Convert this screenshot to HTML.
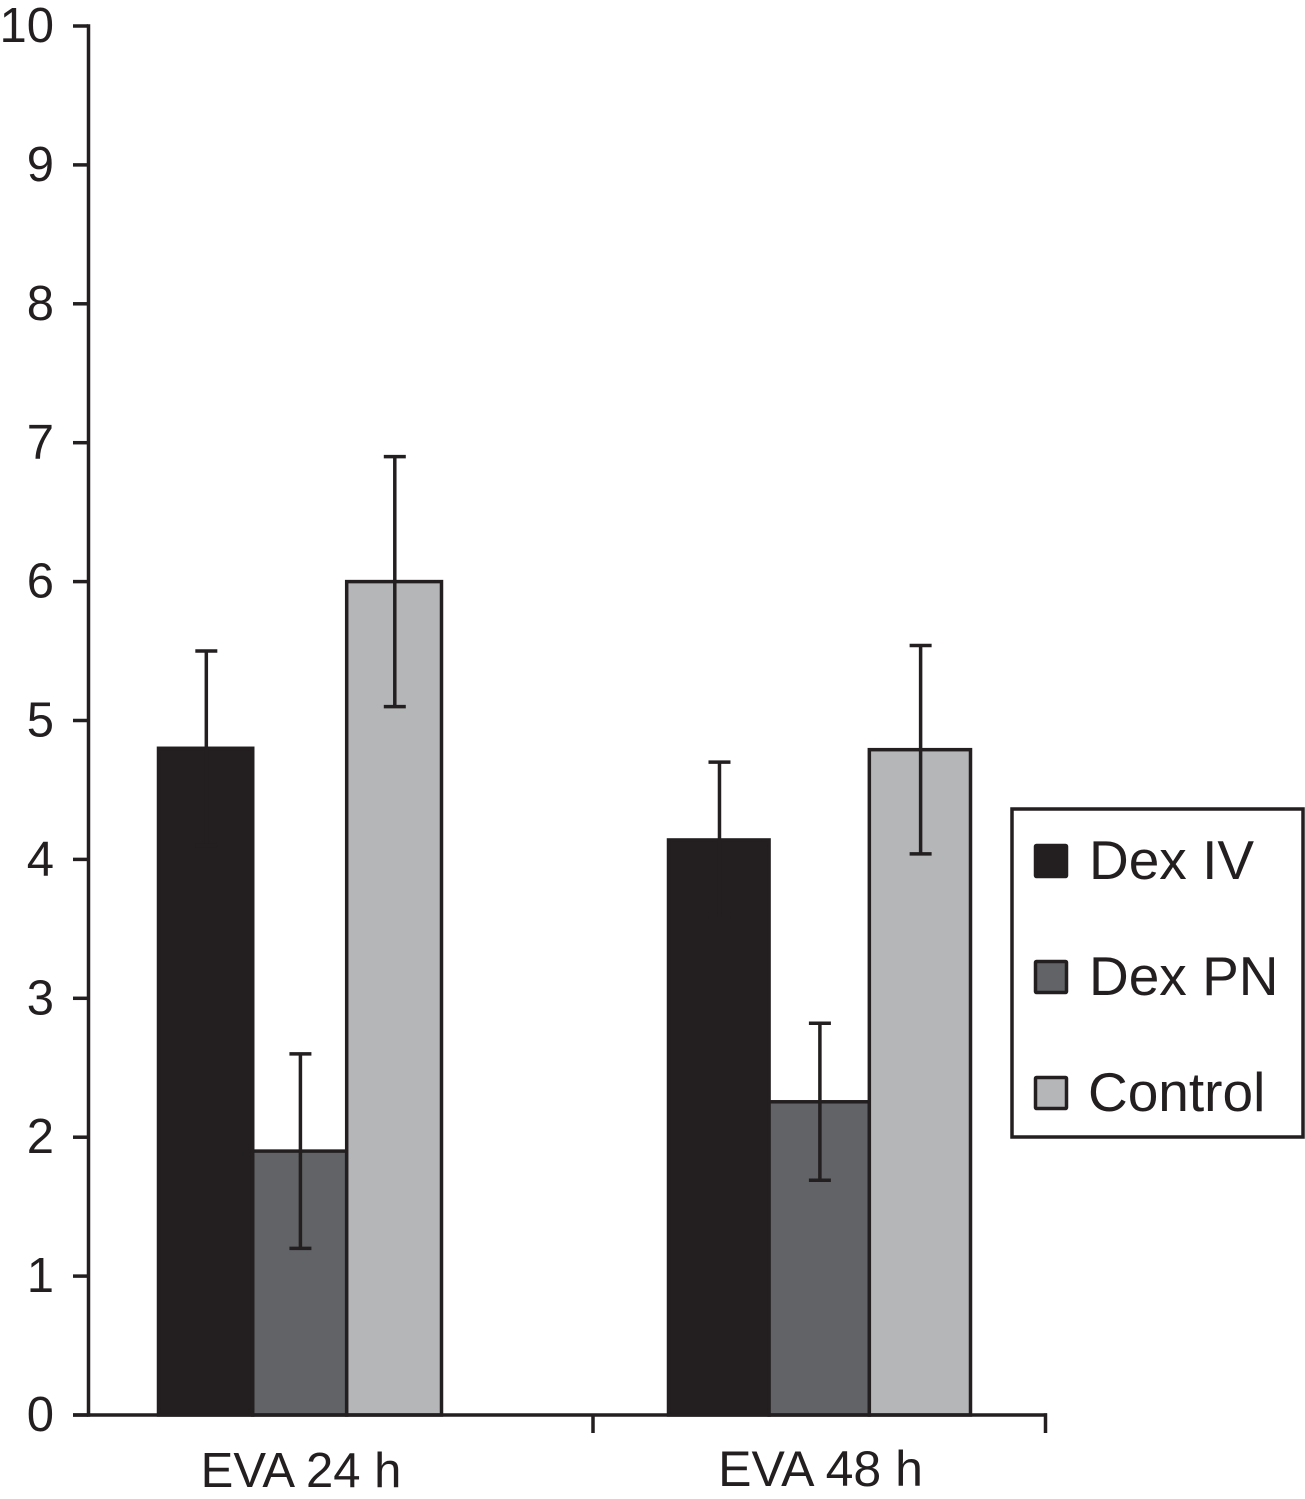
<!DOCTYPE html>
<html lang="en">
<head>
<meta charset="utf-8">
<title>EVA scores by treatment group</title>
<style>
  html, body { margin: 0; padding: 0; background: #fff; }
  body { width: 1305px; height: 1499px; overflow: hidden; }
  svg { display: block; font-family: "Liberation Sans", Arial, sans-serif; fill: #231f20; }
</style>
</head>
<body>
<svg id="chart" xmlns="http://www.w3.org/2000/svg" width="1305" height="1499" viewBox="0 0 1305 1499">
  <rect x="0" y="0" width="1305" height="1499" fill="#ffffff"></rect>
  <g id="bars"></g>
  <g id="errors"></g>
  <g id="axes"></g>
  <g id="legend">
    <rect x="1012" y="809" width="291" height="328" fill="#ffffff" stroke="#231f20" stroke-width="3.5"></rect>
    <g>
      <rect x="1035.5" y="845.5" width="31" height="31" rx="1" fill="#231f20" stroke="#231f20" stroke-width="3.5"></rect>
      <text x="1089" y="879" font-size="55">Dex IV</text>
    </g>
    <g>
      <rect x="1035.5" y="961.5" width="31" height="31" rx="1" fill="#616366" stroke="#231f20" stroke-width="3.5"></rect>
      <text x="1089" y="995" font-size="55">Dex PN</text>
    </g>
    <g>
      <rect x="1035.5" y="1077.5" width="31" height="31" rx="1" fill="#b5b6b8" stroke="#231f20" stroke-width="3.5"></rect>
      <text x="1088" y="1111" font-size="55">Control</text>
    </g>
  </g>
</svg>
<script>
const categories = ['EVA 24 h', 'EVA 48 h'];
const seriesNames = ['Dex IV', 'Dex PN', 'Control'];
const dexIvValues = [4.8, 4.14];
const dexPnValues = [1.9, 2.255];
const controlValues = [6.0, 4.79];
const dexIvErrors = [0.7, 0.56];
const dexPnErrors = [0.7, 0.565];
const controlErrors = [0.9, 0.75];
const yTickLabels = ['0', '1', '2', '3', '4', '5', '6', '7', '8', '9', '10'];

const SVG_NS = 'http://www.w3.org/2000/svg';
const INK = '#231f20';
const seriesValues = [dexIvValues, dexPnValues, controlValues];
const seriesErrors = [dexIvErrors, dexPnErrors, controlErrors];

function yScale(v) { return 1415 - v * 138.9; }
function groupLeft(c) { return 158.5 + c * 510; }
function groupWidth(c) { return 283 + c * 19; }
function barEdge(c, s) {
  const fractions = [0, 0.333, 0.665, 1];
  return groupLeft(c) + groupWidth(c) * fractions[s];
}
function seriesFill(s) {
  if (s === 0) return INK;
  if (s === 1) return '#616366';
  return '#b5b6b8';
}
function slug(t) { return t.toLowerCase().replace(/\s+/g, '-'); }
function drawLine(parent, x1, y1, x2, y2, width) {
  const el = document.createElementNS(SVG_NS, 'line');
  el.setAttribute('x1', x1);
  el.setAttribute('y1', y1);
  el.setAttribute('x2', x2);
  el.setAttribute('y2', y2);
  el.setAttribute('stroke', INK);
  el.setAttribute('stroke-width', width);
  parent.appendChild(el);
  return el;
}
function drawText(parent, x, y, size, anchor, content) {
  const el = document.createElementNS(SVG_NS, 'text');
  el.setAttribute('x', x);
  el.setAttribute('y', y);
  el.setAttribute('font-size', size);
  el.setAttribute('text-anchor', anchor);
  el.textContent = content;
  parent.appendChild(el);
  return el;
}

const barsLayer = document.getElementById('bars');
const errorsLayer = document.getElementById('errors');
const axesLayer = document.getElementById('axes');

categories.forEach(function (category, c) {
  seriesNames.forEach(function (name, s) {
    const key = slug(name) + '-' + slug(category);
    const left = barEdge(c, s);
    const right = barEdge(c, s + 1);
    const top = yScale(seriesValues[s][c]);
    const bar = document.createElementNS(SVG_NS, 'rect');
    
    
    bar.setAttribute('x', left);
    bar.setAttribute('y', top);
    bar.setAttribute('width', right - left);
    bar.setAttribute('height', yScale(0) - top);
    bar.setAttribute('fill', seriesFill(s));
    bar.setAttribute('stroke', INK);
    bar.setAttribute('stroke-width', 3.5);
    barsLayer.appendChild(bar);

    const mid = (left + right) / 2 + 0.7;
    const upper = yScale(seriesValues[s][c] + seriesErrors[s][c]);
    const lower = yScale(seriesValues[s][c] - seriesErrors[s][c]);
    const stem = drawLine(errorsLayer, mid, upper, mid, lower, 3.5);
    
    
    const capTop = drawLine(errorsLayer, mid - 11, upper, mid + 11, upper, 3.5);
    
    
    const capBottom = drawLine(errorsLayer, mid - 11, lower, mid + 11, lower, 3.5);
    
    
  });

  const labelCenter = groupLeft(c) + groupWidth(c) / 2 + 1;
  const catLabel = drawText(axesLayer, labelCenter, 1487 - c, 49 + c, 'middle', category);
  
  
});

const yAxis = drawLine(axesLayer, 88.5, yScale(10) - 1.75, 88.5, yScale(0) + 1.75, 3.5);



const xAxis = drawLine(axesLayer, 73, yScale(0), 1047, yScale(0), 3.5);



const xTickMiddle = drawLine(axesLayer, 593, yScale(0), 593, 1433, 3.5);



const xTickEnd = drawLine(axesLayer, 1045.5, yScale(0) - 1.75, 1045.5, 1433, 3.5);



yTickLabels.forEach(function (label) {
  const v = Number(label);
  const tick = drawLine(axesLayer, 73, yScale(v), 88, yScale(v), 3.5);
  
  
  const text = drawText(axesLayer, 54, yScale(v) + 16, 49, 'end', label);
  
  
});
</script>
</body>
</html>
